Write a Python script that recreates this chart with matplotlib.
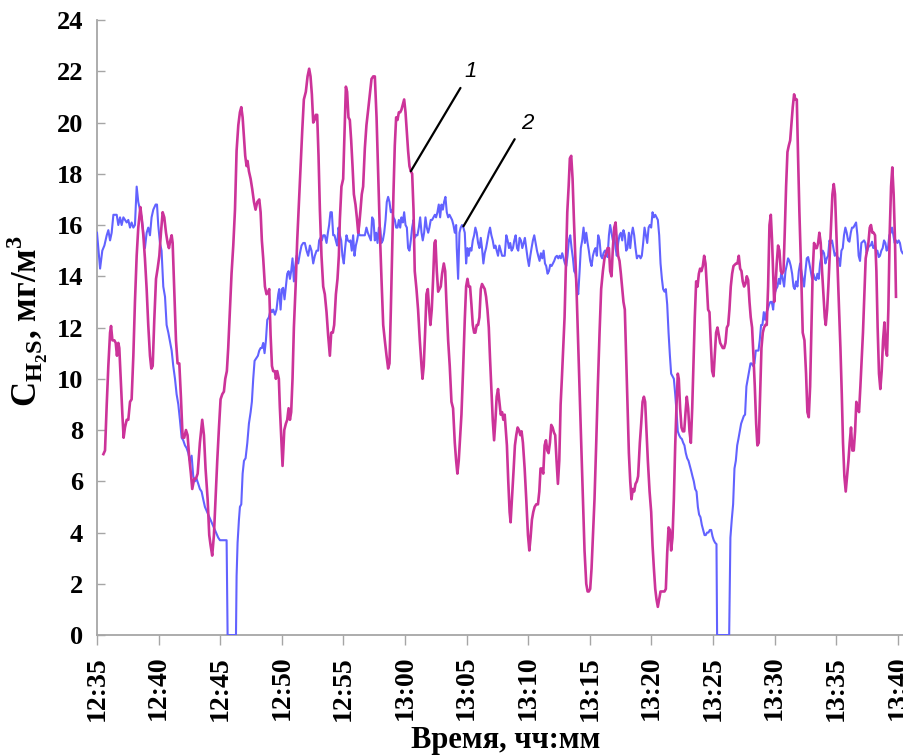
import numpy as np
import matplotlib
matplotlib.use("Agg")
import matplotlib.pyplot as plt
from matplotlib.ticker import MultipleLocator, FixedLocator

# time in minutes after 12:35, H2S concentration in mg/m3
CURVE_1 = [  # magenta, label "1"
    (0.52, 7.06), (0.65, 7.2), (0.79, 9.0), (0.92, 10.5), (1.06, 11.8), (1.14, 12.06),
    (1.25, 11.5), (1.41, 11.5), (1.52, 11.4), (1.62, 10.9), (1.73, 11.4), (1.81, 11.2),
    (1.95, 9.7), (2.06, 8.6), (2.16, 7.7), (2.27, 8.1), (2.41, 8.4), (2.54, 8.4),
    (2.68, 9.1), (2.81, 9.2), (2.95, 10.9), (3.08, 13.0), (3.22, 14.8), (3.35, 15.9),
    (3.52, 16.7), (3.62, 16.3), (3.76, 15.6), (3.89, 14.7), (4.03, 13.5), (4.16, 12.1),
    (4.30, 10.9), (4.41, 10.4), (4.52, 10.5), (4.65, 12.3), (4.79, 13.9), (4.92, 14.3),
    (5.06, 14.8), (5.19, 15.7), (5.33, 16.5), (5.46, 16.3), (5.60, 15.7), (5.73, 15.3),
    (5.84, 15.1), (5.95, 15.4), (6.06, 15.6), (6.14, 15.3), (6.27, 13.5), (6.41, 11.5),
    (6.54, 10.6), (6.68, 10.6), (6.81, 9.3), (6.95, 7.7), (7.08, 7.7), (7.22, 8.0),
    (7.35, 7.8), (7.49, 6.9), (7.62, 6.3), (7.73, 5.7), (7.89, 6.1), (8.03, 6.1),
    (8.17, 6.3), (8.35, 7.5), (8.54, 8.4), (8.68, 7.8), (8.81, 6.5), (8.98, 5.3),
    (9.11, 3.9), (9.22, 3.5), (9.35, 3.1), (9.49, 3.9), (9.62, 5.3), (9.76, 6.8),
    (9.90, 8.1), (10.03, 9.2), (10.17, 9.4), (10.30, 9.5), (10.41, 10.0), (10.54, 10.3),
    (10.65, 11.2), (10.79, 12.7), (10.92, 14.1), (11.06, 15.2),
    (11.20, 16.6), (11.33, 18.9), (11.47, 19.9), (11.60, 20.4), (11.71, 20.6), (11.82, 20.2),
    (11.93, 19.4), (12.03, 18.7), (12.14, 18.3), (12.22, 18.5), (12.33, 18.1), (12.47, 17.8),
    (12.60, 17.4), (12.74, 16.9), (12.87, 16.6), (13.01, 16.9), (13.17, 17.0), (13.28, 16.5),
    (13.38, 15.4), (13.49, 14.7), (13.63, 13.6), (13.76, 13.3), (13.90, 13.4), (13.98, 13.5),
    (14.09, 11.7), (14.20, 10.5), (14.30, 10.3), (14.44, 10.3), (14.52, 10.0), (14.63, 10.3),
    (14.76, 10.0), (14.84, 8.9), (14.98, 7.4), (15.06, 6.6), (15.20, 8.0), (15.33, 8.25),
    (15.44, 8.4), (15.55, 8.85), (15.66, 8.4), (15.76, 8.7), (15.87, 10.0), (15.98, 12.0),
    (16.12, 13.6), (16.25, 15.4), (16.39, 16.9), (16.52, 18.3), (16.66, 19.7), (16.79, 20.9),
    (16.95, 21.2), (17.09, 21.8), (17.22, 22.1), (17.33, 21.8), (17.44, 21.1), (17.55, 20.0),
    (17.66, 20.1), (17.76, 20.3), (17.87, 20.3), (17.98, 18.7), (18.09, 16.6), (18.22, 14.8),
    (18.36, 13.6), (18.49, 13.3), (18.63, 12.6), (18.76, 11.7), (18.90, 10.9), (19.01, 11.8),
    (19.14, 11.8), (19.25, 12.1), (19.39, 13.3), (19.52, 13.9), (19.63, 14.8), (19.71, 16.2),
    (19.84, 17.5), (19.98, 17.8), (20.09, 19.6), (20.20, 21.4), (20.30, 21.2), (20.41, 20.2),
    (20.52, 20.1), (20.63, 19.3), (20.74, 18.3), (20.85, 17.2), (20.98, 16.8), (21.09, 16.3),
    (21.20, 15.7), (21.28, 16.0), (21.39, 16.6), (21.49, 17.2), (21.60, 17.5), (21.74, 19.0),
    (21.87, 19.9), (22.01, 20.5),
    (22.28, 21.7), (22.42, 21.8), (22.55, 21.8), (22.69, 20.2), (22.82, 18.0), (22.96, 15.7),
    (23.09, 13.9), (23.23, 12.1), (23.36, 11.5), (23.50, 10.9), (23.63, 10.4), (23.74, 10.6),
    (23.85, 12.7), (23.96, 15.0), (24.06, 17.2), (24.17, 19.1), (24.28, 20.2), (24.39, 20.1),
    (24.50, 20.4), (24.61, 20.4), (24.71, 20.5), (24.82, 20.7), (24.93, 20.9), (25.04, 20.4),
    (25.15, 19.6), (25.25, 18.9), (25.36, 18.3), (25.47, 18.1), (25.58, 18.0), (25.69, 16.6),
    (25.79, 14.2), (25.93, 13.5), (26.06, 12.7), (26.20, 11.5), (26.34, 10.5), (26.42, 10.0),
    (26.52, 10.5), (26.63, 11.8), (26.74, 13.3), (26.85, 13.5), (26.96, 12.7), (27.06, 12.1),
    (27.17, 12.7), (27.28, 13.9), (27.39, 15.3), (27.47, 15.4), (27.58, 14.2), (27.69, 13.4),
    (27.80, 13.5), (27.90, 13.6), (28.01, 14.1), (28.15, 14.5), (28.26, 14.2), (28.36, 13.0),
    (28.50, 11.5), (28.63, 10.5), (28.77, 9.1), (28.90, 8.85), (29.04, 7.5), (29.15, 6.8),
    (29.25, 6.3), (29.36, 6.8), (29.47, 7.7), (29.58, 8.6), (29.71, 10.3), (29.85, 12.3),
    (29.96, 13.6), (30.07, 13.9), (30.17, 13.6), (30.28, 13.6), (30.39, 12.9), (30.50, 12.1),
    (30.61, 11.8), (30.71, 11.8), (30.82, 12.1), (30.93, 12.1), (31.04, 12.4), (31.15, 13.5),
    (31.25, 13.7), (31.36, 13.6), (31.47, 13.5), (31.58, 13.2), (31.69, 12.7), (31.80, 12.0),
    (31.90, 10.8), (32.01, 9.6), (32.12, 8.4), (32.23, 7.6), (32.34, 8.4), (32.44, 9.3),
    (32.55, 9.6), (32.66, 9.1), (32.77, 8.6), (32.88, 8.7), (32.98, 8.4), (33.09, 8.6),
    (33.27, 7.4), (33.38, 6.0), (33.49, 4.8), (33.57, 4.4), (33.68, 5.3), (33.82, 6.5),
    (33.92, 7.4), (34.03, 7.8), (34.14, 8.1), (34.25, 8.0), (34.36, 7.8), (34.46, 7.95),
    (34.57, 7.5), (34.71, 6.5), (34.84, 5.3), (34.98, 3.9), (35.09, 3.3), (35.19, 3.8),
    (35.30, 4.5), (35.41, 4.8), (35.52, 5.0), (35.65, 5.1), (35.79, 5.1), (35.90, 5.6),
    (36.00, 6.5), (36.11, 6.5), (36.22, 6.3), (36.33, 7.4), (36.44, 7.6), (36.55, 7.2),
    (36.65, 7.1), (36.76, 7.5), (36.87, 8.2), (36.98, 8.1), (37.09, 7.9), (37.19, 7.8),
    (37.30, 6.8), (37.41, 5.9), (37.52, 6.8), (37.63, 9.0), (37.73, 10.0), (37.84, 11.2),
    (37.95, 12.4), (38.06, 14.5), (38.17, 16.5), (38.28, 17.5), (38.38, 18.6), (38.49, 18.7),
    (38.60, 17.8), (38.71, 16.2), (38.82, 14.8), (38.92, 13.5), (39.03, 11.8), (39.17, 9.7),
    (39.30, 7.5), (39.44, 5.3), (39.57, 3.3), (39.71, 2.0), (39.82, 1.7), (39.92, 1.7),
    (40.03, 1.8), (40.14, 2.6), (40.25, 3.8), (40.38, 5.3), (40.52, 7.5), (40.65, 9.7),
    (40.79, 11.8), (40.92, 13.5), (41.06, 14.2), (41.19, 14.7), (41.33, 14.9), (41.44, 15.1),
    (41.55, 15.1), (41.65, 14.2), (41.76, 14.0), (41.87, 15.1), (41.98, 15.9), (42.09, 16.1),
    (42.19, 15.4), (42.30, 14.8), (42.41, 14.6), (42.52, 14.1), (42.63, 13.5), (42.73, 13.0),
    (42.84, 12.7), (42.95, 10.8), (43.06, 8.85), (43.17, 7.1), (43.28, 6.0), (43.38, 5.3),
    (43.49, 5.7), (43.60, 5.6), (43.71, 5.9), (43.82, 6.0), (43.92, 6.2),
    (44.06, 7.5), (44.17, 8.25), (44.28, 9.1), (44.39, 9.3), (44.49, 9.1), (44.60, 7.95),
    (44.71, 6.8), (44.85, 5.6), (44.98, 4.8), (45.09, 3.5), (45.20, 2.6), (45.31, 1.8),
    (45.41, 1.4), (45.52, 1.1), (45.63, 1.4), (45.74, 1.7), (45.85, 1.7), (45.95, 1.7),
    (46.06, 1.7), (46.17, 1.8), (46.28, 3.2), (46.39, 4.2), (46.50, 4.1), (46.60, 3.3),
    (46.71, 3.8), (46.82, 5.3), (46.93, 7.4), (47.04, 9.0), (47.14, 10.2), (47.22, 10.0),
    (47.33, 8.85), (47.44, 8.1), (47.55, 7.95), (47.66, 7.95), (47.77, 8.7), (47.87, 9.3),
    (47.98, 8.85), (48.09, 7.95), (48.20, 7.5), (48.31, 8.85), (48.41, 10.6), (48.52, 12.4),
    (48.63, 13.8), (48.74, 13.6), (48.85, 14.1), (48.95, 14.3), (49.06, 14.2), (49.17, 14.4),
    (49.28, 14.8), (49.39, 14.5), (49.50, 13.6), (49.60, 12.7), (49.71, 12.6), (49.82, 11.4),
    (49.93, 10.3), (50.04, 10.1), (50.14, 10.9), (50.25, 11.8), (50.36, 12.0), (50.47, 11.7),
    (50.58, 11.4), (50.68, 11.3), (50.79, 11.2), (50.90, 11.2), (51.01, 11.4), (51.12, 12.0),
    (51.23, 12.1), (51.33, 12.7), (51.44, 13.6), (51.55, 14.1), (51.66, 14.4), (51.77, 14.45),
    (51.87, 14.5), (51.98, 14.5), (52.09, 14.8), (52.20, 14.3), (52.31, 14.2), (52.41, 13.8),
    (52.52, 13.6), (52.63, 13.7), (52.74, 14.0), (52.85, 13.85), (52.96, 13.0), (53.06, 12.4),
    (53.17, 12.0), (53.28, 10.9), (53.39, 9.7), (53.50, 8.25), (53.60, 7.4), (53.71, 7.5),
    (53.82, 9.3), (53.93, 11.2), (54.04, 11.8), (54.14, 12.0), (54.25, 12.1), (54.36, 12.1),
    (54.47, 13.6), (54.58, 16.0), (54.69, 16.4), (54.79, 15.4),
    (54.96, 13.0), (55.07, 13.6), (55.17, 14.5), (55.28, 15.2), (55.39, 15.0), (55.50, 14.2),
    (55.61, 14.1), (55.72, 14.2), (55.82, 15.7), (55.93, 17.5), (56.04, 18.85), (56.15, 19.1),
    (56.26, 19.3), (56.36, 19.9), (56.47, 20.6), (56.58, 21.1), (56.69, 20.9), (56.80, 20.9),
    (56.90, 18.7), (57.01, 16.5), (57.15, 14.2), (57.28, 11.8), (57.42, 11.5), (57.55, 10.2),
    (57.66, 8.7), (57.77, 8.5), (57.88, 9.7), (57.99, 12.1), (58.09, 14.2), (58.20, 15.3),
    (58.31, 15.1), (58.42, 15.1), (58.53, 15.3), (58.63, 15.7), (58.74, 15.3), (58.85, 14.2),
    (58.96, 13.3), (59.07, 12.4), (59.15, 12.1), (59.26, 12.7), (59.36, 13.6), (59.47, 14.8),
    (59.58, 16.0), (59.69, 17.2), (59.80, 17.6), (59.90, 17.2), (60.01, 15.7), (60.12, 14.2),
    (60.23, 12.7), (60.34, 11.2), (60.45, 9.4), (60.55, 7.5), (60.66, 6.2), (60.77, 5.6),
    (60.88, 6.2), (60.99, 6.8), (61.09, 7.5), (61.20, 8.1), (61.31, 7.2), (61.42, 7.2),
    (61.53, 7.95), (61.63, 9.1), (61.74, 8.85), (61.85, 8.7), (61.96, 9.7), (62.07, 10.8),
    (62.17, 11.8), (62.28, 13.3), (62.39, 14.7), (62.50, 15.0), (62.61, 15.3), (62.72, 15.9),
    (62.82, 16.0), (62.93, 15.7), (63.04, 15.7), (63.15, 15.6), (63.26, 14.2), (63.36, 12.0),
    (63.47, 10.2), (63.58, 9.6), (63.69, 10.3), (63.80, 11.5), (63.91, 12.2), (64.01, 11.2),
    (64.12, 10.9), (64.23, 12.7), (64.34, 15.7), (64.45, 17.5), (64.55, 18.25), (64.66, 17.2),
    (64.77, 15.4), (64.85, 13.2),
]

CURVE_2 = [  # blue, label "2"
    (0.00, 15.7), (0.25, 14.3), (0.43, 15.0), (0.60, 15.2), (0.79, 15.6), (0.92, 15.8),
    (1.06, 15.4), (1.19, 15.7), (1.33, 16.4), (1.60, 16.4), (1.73, 16.0), (1.87, 16.3),
    (2.00, 16.0), (2.14, 16.3), (2.27, 16.2), (2.41, 16.1), (2.54, 16.2), (2.68, 15.9),
    (2.81, 16.1), (2.95, 15.9), (3.08, 16.0), (3.22, 17.5), (3.35, 16.9), (3.62, 16.3),
    (3.76, 15.7), (3.89, 15.1), (4.03, 15.7), (4.16, 15.9), (4.30, 15.6), (4.43, 16.3),
    (4.57, 16.6), (4.76, 16.8), (4.87, 16.8), (4.97, 16.0), (5.11, 15.3), (5.24, 15.0),
    (5.38, 13.6), (5.52, 13.2), (5.65, 12.1), (5.79, 11.8), (6.06, 11.1), (6.19, 10.5),
    (6.33, 10.0), (6.46, 9.4), (6.60, 9.0), (6.73, 8.4), (6.87, 7.7), (7.00, 7.6),
    (7.14, 7.4), (7.27, 7.3), (7.41, 7.1), (7.54, 6.8), (7.68, 7.0), (7.81, 6.2),
    (7.95, 6.0), (8.08, 6.1), (8.22, 5.9), (8.35, 5.7), (8.49, 5.6), (8.62, 5.3),
    (8.76, 5.0), (9.03, 4.7), (9.30, 4.4), (9.57, 4.1), (9.84, 3.8), (9.98, 3.7),
    (10.38, 3.7), (10.52, 3.7), (10.60, 0.0),
    (11.28, 0.0), (11.33, 2.3), (11.41, 3.6), (11.52, 4.5), (11.60, 5.0), (11.71, 5.1),
    (11.82, 6.3), (11.93, 6.8), (12.06, 6.9), (12.20, 7.5), (12.33, 8.25), (12.47, 8.7),
    (12.57, 9.1), (12.68, 10.0), (12.79, 10.7), (12.93, 10.8), (13.06, 10.9), (13.17, 11.1),
    (13.28, 11.2), (13.38, 11.2), (13.49, 11.4), (13.60, 11.0), (13.71, 11.5), (13.82, 12.3),
    (13.95, 12.4), (14.09, 12.7), (14.20, 12.6), (14.30, 12.7), (14.44, 12.5), (14.57, 12.7),
    (14.71, 13.3), (14.79, 13.5), (14.90, 12.7), (15.01, 13.5), (15.11, 13.55), (15.22, 13.1),
    (15.33, 13.6), (15.44, 14.1), (15.55, 14.2), (15.66, 13.9), (15.76, 14.2), (15.87, 14.7),
    (15.98, 13.8), (16.09, 14.4), (16.20, 14.8), (16.33, 14.5), (16.47, 14.9), (16.60, 15.2),
    (16.74, 15.3), (16.87, 15.3), (17.01, 15.0), (17.14, 14.8), (17.28, 15.2), (17.41, 15.0),
    (17.55, 14.5), (17.68, 14.8), (17.82, 15.0), (17.95, 15.0), (18.03, 15.4), (18.14, 15.5),
    (18.25, 15.4), (18.36, 15.6), (18.49, 15.6), (18.63, 15.3), (18.74, 15.7), (18.84, 16.0),
    (18.95, 16.5), (19.06, 16.5), (19.17, 15.6), (19.28, 15.6), (19.38, 15.4), (19.49, 15.2),
    (19.60, 15.9), (19.71, 15.6), (19.82, 15.4), (19.92, 14.8), (20.03, 14.5), (20.14, 15.1),
    (20.25, 15.6), (20.36, 15.4), (20.47, 15.35), (20.57, 15.4), (20.68, 15.0), (20.79, 15.6),
    (20.90, 14.8), (21.01, 15.2), (21.11, 15.4), (21.22, 15.7), (21.33, 15.6), (21.47, 15.6),
    (21.60, 15.6), (21.74, 15.6), (21.87, 15.9), (21.98, 15.7),
    (22.23, 15.4), (22.33, 16.3), (22.44, 16.2), (22.55, 15.4), (22.66, 15.7), (22.77, 15.3),
    (22.88, 15.9), (22.98, 15.9), (23.09, 15.3), (23.20, 15.4), (23.31, 15.7), (23.42, 16.2),
    (23.52, 16.9), (23.63, 17.1), (23.74, 16.9), (23.85, 16.5), (23.96, 16.6), (24.06, 16.3),
    (24.17, 16.2), (24.28, 15.9), (24.39, 15.9), (24.50, 16.2), (24.61, 15.9), (24.71, 16.3),
    (24.82, 16.1), (24.93, 16.5), (25.04, 16.0), (25.15, 15.9), (25.25, 15.1), (25.36, 15.0),
    (25.47, 15.4), (25.58, 15.9), (25.69, 16.2), (25.79, 15.5), (25.90, 15.6), (26.01, 15.6),
    (26.12, 15.9), (26.23, 16.3), (26.34, 15.7), (26.44, 15.4), (26.55, 15.7), (26.66, 16.3),
    (26.77, 15.9), (26.88, 15.7), (26.98, 15.9), (27.09, 16.2), (27.20, 16.2), (27.31, 16.3),
    (27.42, 16.4), (27.52, 16.3), (27.63, 16.5), (27.74, 16.8), (27.85, 16.3), (27.96, 16.8),
    (28.07, 16.6), (28.17, 16.9), (28.28, 17.1), (28.39, 16.5), (28.50, 16.3), (28.61, 16.4),
    (28.71, 16.3), (28.82, 16.2), (28.93, 16.0), (29.04, 15.7), (29.15, 16.0), (29.20, 15.1),
    (29.31, 13.9), (29.42, 15.7), (29.52, 15.9), (29.63, 16.0), (29.74, 15.9), (29.85, 15.7),
    (29.96, 14.5), (30.07, 15.1), (30.17, 14.8), (30.28, 15.1), (30.39, 15.0), (30.50, 15.4),
    (30.61, 15.6), (30.71, 15.9), (30.82, 15.7), (30.93, 15.3), (31.04, 15.1), (31.15, 15.5),
    (31.25, 15.1), (31.36, 14.5), (31.47, 14.9), (31.58, 15.1), (31.69, 15.4), (31.80, 15.7),
    (31.90, 15.9), (32.01, 15.6), (32.12, 15.4), (32.23, 15.1), (32.34, 15.2), (32.44, 15.0),
    (32.55, 14.8), (32.66, 15.2), (32.77, 15.0), (32.88, 14.8), (32.98, 14.8), (33.09, 14.8),
    (33.22, 15.6), (33.33, 15.4), (33.44, 15.1), (33.54, 15.3), (33.65, 15.0), (33.76, 15.1),
    (33.87, 15.4), (33.98, 15.6), (34.09, 15.1), (34.19, 15.0), (34.30, 15.5), (34.41, 15.4),
    (34.52, 15.1), (34.63, 15.3), (34.73, 15.5), (34.84, 15.1), (34.95, 14.7), (35.06, 14.4),
    (35.17, 14.8), (35.27, 15.1), (35.38, 15.4), (35.49, 15.6), (35.60, 15.3), (35.71, 15.0),
    (35.81, 14.8), (35.92, 14.6), (36.03, 14.9), (36.14, 14.7), (36.25, 15.0), (36.36, 14.5),
    (36.46, 14.4), (36.57, 14.1), (36.68, 14.2), (36.79, 14.45), (36.90, 14.4), (37.00, 14.5),
    (37.11, 14.6), (37.22, 14.75), (37.33, 14.8), (37.44, 14.7), (37.54, 14.8), (37.65, 14.7),
    (37.76, 14.9), (37.87, 14.7), (37.98, 14.5), (38.09, 14.4), (38.19, 14.8), (38.30, 15.4),
    (38.41, 15.6), (38.52, 15.1), (38.63, 14.7), (38.73, 14.2), (38.84, 14.1), (38.95, 13.6),
    (39.06, 13.3), (39.17, 14.2), (39.27, 15.1), (39.38, 15.4), (39.49, 15.9), (39.60, 15.3),
    (39.71, 15.7), (39.82, 15.3), (39.92, 15.0), (40.03, 14.6), (40.14, 14.4), (40.25, 14.8),
    (40.36, 15.0), (40.46, 15.1), (40.57, 14.8), (40.68, 15.6), (40.79, 15.4), (40.90, 14.8),
    (41.01, 14.7), (41.11, 14.9), (41.22, 15.0), (41.33, 15.0), (41.44, 14.75), (41.55, 15.6),
    (41.65, 16.0), (41.76, 15.7), (41.87, 15.4), (41.98, 15.6), (42.09, 15.1), (42.19, 14.8),
    (42.30, 15.3), (42.41, 15.6), (42.52, 15.7), (42.63, 15.4), (42.73, 15.8), (42.84, 15.6),
    (42.95, 15.0), (43.06, 15.1), (43.17, 15.7), (43.28, 15.1), (43.38, 15.6), (43.49, 15.9),
    (43.60, 15.6), (43.71, 15.1), (43.82, 14.7), (43.92, 14.8), (44.03, 14.8),
    (44.12, 14.7), (44.22, 14.8), (44.33, 15.3), (44.44, 15.9), (44.55, 15.6), (44.66, 15.3),
    (44.77, 15.9), (44.87, 16.0), (44.98, 15.9), (45.09, 16.5), (45.20, 16.3), (45.31, 16.4),
    (45.41, 16.3), (45.52, 16.2), (45.63, 15.6), (45.74, 14.5), (45.85, 13.9), (45.95, 13.5),
    (46.06, 13.4), (46.17, 13.5), (46.28, 12.9), (46.39, 11.8), (46.50, 10.9), (46.60, 10.2),
    (46.71, 10.1), (46.82, 10.0), (46.93, 9.4), (47.04, 8.7), (47.14, 7.95), (47.25, 7.8),
    (47.36, 7.7), (47.47, 7.65), (47.58, 7.5), (47.68, 7.4), (47.79, 7.1), (47.90, 6.9),
    (48.01, 6.8), (48.12, 6.6), (48.23, 6.4), (48.33, 6.2), (48.44, 6.0), (48.55, 5.7),
    (48.66, 5.6), (48.77, 5.0), (48.87, 4.7), (48.98, 4.6), (49.09, 4.3), (49.20, 4.1),
    (49.31, 3.9), (49.41, 3.9), (49.52, 4.0), (49.63, 4.0), (49.74, 4.1), (49.85, 4.1),
    (49.96, 3.85), (50.06, 3.7), (50.17, 3.6), (50.28, 3.55), (50.33, 0.0),
    (51.31, 0.0), (51.41, 3.8), (51.52, 4.5), (51.63, 5.1), (51.74, 6.5), (51.85, 6.8),
    (51.96, 7.4), (52.06, 7.65), (52.17, 7.95), (52.28, 8.25), (52.39, 8.4), (52.50, 8.55),
    (52.60, 8.6), (52.71, 9.7), (52.82, 10.0), (52.93, 10.3), (53.04, 10.6), (53.14, 10.6),
    (53.25, 10.5), (53.36, 10.6), (53.47, 11.1), (53.58, 11.1), (53.69, 11.1), (53.79, 11.5),
    (53.90, 12.1), (54.01, 12.1), (54.12, 12.6), (54.23, 12.3), (54.33, 12.6), (54.44, 12.7),
    (54.55, 12.9), (54.66, 13.0), (54.77, 13.0), (54.88, 12.7), (54.98, 13.3),
    (55.12, 13.5), (55.23, 13.6), (55.34, 13.9), (55.44, 13.7), (55.55, 14.2), (55.66, 13.9),
    (55.77, 13.6), (55.88, 14.2), (55.99, 14.45), (56.09, 14.7), (56.20, 14.6), (56.31, 14.4),
    (56.42, 14.1), (56.53, 13.6), (56.63, 13.5), (56.74, 13.8), (56.85, 13.6), (56.96, 14.2),
    (57.07, 14.5), (57.17, 14.2), (57.28, 13.9), (57.39, 13.6), (57.50, 14.2), (57.61, 14.7),
    (57.72, 14.75), (57.82, 14.5), (57.93, 14.2), (58.04, 13.9), (58.15, 14.1), (58.26, 13.9),
    (58.36, 13.85), (58.47, 14.1), (58.58, 13.9), (58.69, 14.5), (58.80, 14.8), (58.90, 15.0),
    (59.01, 14.9), (59.12, 14.5), (59.23, 14.7), (59.34, 14.8), (59.45, 15.4), (59.55, 15.3),
    (59.66, 15.4), (59.77, 15.1), (59.88, 14.8), (59.99, 14.9), (60.09, 14.75), (60.20, 14.7),
    (60.31, 14.4), (60.42, 15.0), (60.53, 15.1), (60.63, 15.6), (60.74, 15.9), (60.85, 15.7),
    (60.96, 15.4), (61.07, 15.35), (61.18, 15.7), (61.28, 15.9), (61.39, 15.9), (61.50, 16.0),
    (61.61, 16.1), (61.72, 15.6), (61.82, 14.8), (61.93, 14.6), (62.04, 15.3), (62.15, 15.35),
    (62.26, 15.4), (62.36, 15.3), (62.47, 14.9), (62.58, 15.1), (62.69, 15.2), (62.80, 15.2),
    (62.91, 15.35), (63.01, 15.1), (63.12, 15.2), (63.23, 15.0), (63.34, 15.0), (63.45, 14.75),
    (63.55, 14.8), (63.66, 15.0), (63.77, 15.1), (63.88, 15.4), (63.99, 15.3), (64.09, 15.0),
    (64.20, 15.1), (64.31, 15.6), (64.42, 15.7), (64.53, 15.9), (64.64, 15.6), (64.74, 15.3),
    (64.85, 15.4), (64.96, 15.3), (65.07, 15.4), (65.17, 15.3), (65.28, 15.0), (65.39, 14.9),
]

TICK_MINUTES = [0, 5, 10, 15, 20, 25, 30, 35, 40, 45, 50, 55, 60, 65]
TICK_LABELS = ["12:35", "12:40", "12:45", "12:50", "12:55", "13:00", "13:05",
               "13:10", "13:15", "13:20", "13:25", "13:30", "13:35", "13:40"]
GRID_LEVELS = [4, 8, 12, 16, 20, 24]

# leader lines: (label, text position, line start, point on curve)
CALLOUTS = [("1", (30.3, 22.0), (29.5, 21.35), (25.47, 18.1)),
            ("2", (34.9, 19.96), (33.9, 19.35), (29.74, 15.95))]

MAGENTA = "#CC3399"
BLUE = "#6262FF"

plt.rcParams["font.family"] = ["Liberation Serif", "DejaVu Serif"]
plt.rcParams["font.weight"] = "bold"
plt.rcParams["mathtext.fontset"] = "custom"
plt.rcParams["mathtext.rm"] = "Liberation Serif:bold"
plt.rcParams["mathtext.bf"] = "Liberation Serif:bold"


def main():
    fig = plt.figure(figsize=(9.04, 7.56), dpi=100)
    ax = fig.add_axes([0.1073, 0.160, 0.8927, 0.8135])

    t2, v2 = np.array(CURVE_2).T
    t1, v1 = np.array(CURVE_1).T
    ax.plot(t2, v2, color=BLUE, lw=1.5, zorder=3)
    ax.plot(t1, v1, color=MAGENTA, lw=1.9, zorder=4)

    ax.set_xlim(0, 65.5)
    ax.set_ylim(0, 24)
    ax.set_xticks(TICK_MINUTES)
    ax.set_xticklabels(TICK_LABELS, rotation=90)
    ax.yaxis.set_major_locator(MultipleLocator(2))
    ax.yaxis.set_minor_locator(FixedLocator(GRID_LEVELS))
    ax.grid(True, which="minor", axis="y", color="#d4d4d4", lw=1.1)
    ax.set_axisbelow(True)

    ax.tick_params(axis="y", which="major", direction="in", length=6,
                   width=1, color="#a6a6a6", labelsize=19, pad=10)
    ax.tick_params(axis="y", which="minor", length=0)
    ax.tick_params(axis="x", direction="out", length=7, width=1,
                   color="#a6a6a6", labelsize=20, pad=8)
    for side in ("top", "right"):
        ax.spines[side].set_visible(False)
    for side in ("left", "bottom"):
        ax.spines[side].set_color("#a6a6a6")
        ax.spines[side].set_linewidth(1.3)

    ax.set_xlabel("Время, чч:мм", fontsize=22, fontweight="bold")
    ax.xaxis.set_label_coords(0.506, -0.148)
    ax.set_ylabel(r"$\mathbf{C}_{\mathbf{H}_{\mathbf{2}}\mathbf{S}}$, мг/м$^{\mathbf{3}}$",
                  fontsize=25, fontweight="bold")
    ax.yaxis.set_label_coords(-0.060, 0.51)

    for label, text_pos, start, end in CALLOUTS:
        ax.annotate("", xy=end, xytext=start,
                    arrowprops=dict(arrowstyle="-", color="black", lw=1.6,
                                    shrinkA=0, shrinkB=0), zorder=5)
        ax.text(*text_pos, label, family="Liberation Sans", style="italic",
                fontweight="normal", fontsize=16, ha="center", va="center",
                bbox=dict(facecolor="white", edgecolor="none", pad=1.5), zorder=5)

    fig.savefig("out.png", dpi=100)
    plt.close(fig)


if __name__ == "__main__":
    main()
